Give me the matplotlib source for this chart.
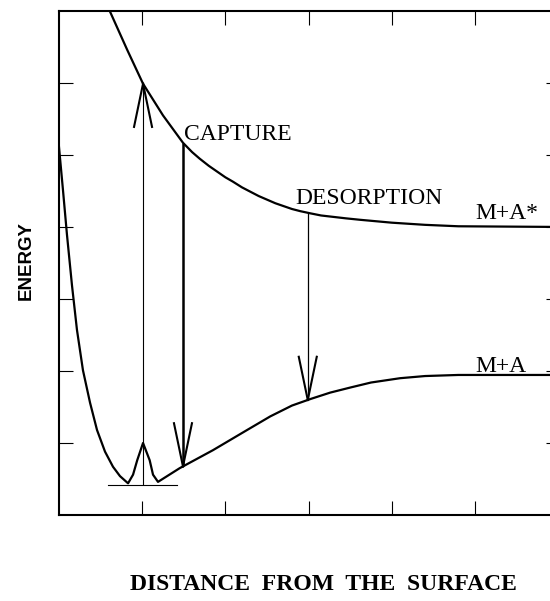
import numpy as np
import matplotlib
matplotlib.use("Agg")
import matplotlib.pyplot as plt

# excited-state curve M + A*
upper_x = [0.61, 0.82, 1.01, 1.25, 1.49, 1.60, 1.69, 1.80, 1.90, 2.00, 2.09, 2.20,
           2.30, 2.40, 2.50, 2.60, 2.70, 2.80, 2.90, 3.02, 3.15, 3.30, 3.45, 3.62,
           4.00, 4.40, 4.80, 6.10]
upper_y = [7.00, 6.46, 5.99, 5.55, 5.17, 5.04, 4.95, 4.85, 4.77, 4.69, 4.63, 4.55,
           4.49, 4.43, 4.38, 4.33, 4.29, 4.25, 4.22, 4.19, 4.16, 4.14, 4.12, 4.10,
           4.06, 4.03, 4.01, 4.00]

# ground-state curve M + A: repulsive wall, vibrational wavefunction, rise to asymptote
ground_x = [0.00, 0.048, 0.096, 0.156, 0.216, 0.288, 0.373, 0.457, 0.553, 0.649, 0.733, 0.83,
            0.89, 0.94, 1.01, 1.09, 1.13, 1.19,
            1.45, 1.85, 2.26, 2.54, 2.80, 3.02, 3.26, 3.50, 3.75, 4.10, 4.40, 4.80, 6.10]
ground_y = [5.11, 4.51, 3.89, 3.19, 2.57, 2.01, 1.56, 1.18, 0.88, 0.67, 0.54, 0.44,
            0.56, 0.76, 1.00, 0.76, 0.56, 0.46,
            0.65, 0.90, 1.18, 1.37, 1.52, 1.61, 1.70, 1.77, 1.84, 1.90, 1.93, 1.945, 1.945]

# vibrational ground level
level_y = 0.42
level_x = [0.59, 1.42]

# transitions
excite_x = 1.01
capture_x = 1.49
desorb_x = 2.99

labels = [("CAPTURE", 1.50, 5.21), ("DESORPTION", 2.84, 4.32),
          ("M+A*", 5.01, 4.11), ("M+A", 5.01, 1.99)]

W, H = 550, 601
fig = plt.figure(figsize=(W / 100, H / 100), dpi=100)
ax = fig.add_axes([59 / W, (H - 515) / H, (560 - 59) / W, (515 - 11) / H])
ax.set_xlim(0, (560 - 59) / 83.2)
ax.set_ylim(0, 7)

ax.plot(upper_x, upper_y, color="black", lw=1.6)
ax.plot(ground_x, ground_y, color="black", lw=1.6)
ax.plot(level_x, [level_y, level_y], color="black", lw=0.8)

head_dx = 9 / 83.2
head_dy = 0.6


def arrow(x, y0, y1, lw):
    ax.plot([x, x], [y0, y1], color="black", lw=lw, solid_capstyle="butt")
    s = 1 if y1 > y0 else -1
    for d in (-head_dx, head_dx):
        ax.plot([x, x + d], [y1, y1 - s * head_dy], color="black", lw=1.5)


up = lambda x: np.interp(x, upper_x, upper_y)
gr = lambda x: np.interp(x, ground_x, ground_y)

arrow(excite_x, level_y, up(excite_x), 0.8)
arrow(capture_x, up(capture_x), gr(capture_x), 1.8)
arrow(desorb_x, up(desorb_x), gr(desorb_x), 0.9)

for txt, x, y in labels:
    ax.text(x, y, txt, family="Liberation Serif", fontsize=17, va="baseline", ha="left")

ax.set_xticks([1, 2, 3, 4, 5])
ax.set_yticks([1, 2, 3, 4, 5, 6])
ax.set_xticklabels([])
ax.set_yticklabels([])
ax.tick_params(direction="in", top=True, right=True, length=10, width=0.8)
for sp in ax.spines.values():
    sp.set_linewidth(1.5)

fig.text(26 / W, 1 - 260 / H, "ENERGY", family="Liberation Sans", fontweight="bold",
         fontsize=13.5, rotation=90, ha="center", va="center")
fig.text(323 / W, 1 - 590 / H, "DISTANCE  FROM  THE  SURFACE", family="Liberation Serif",
         fontweight="bold", fontsize=17, ha="center", va="baseline")

fig.savefig("out.png", dpi=100)
